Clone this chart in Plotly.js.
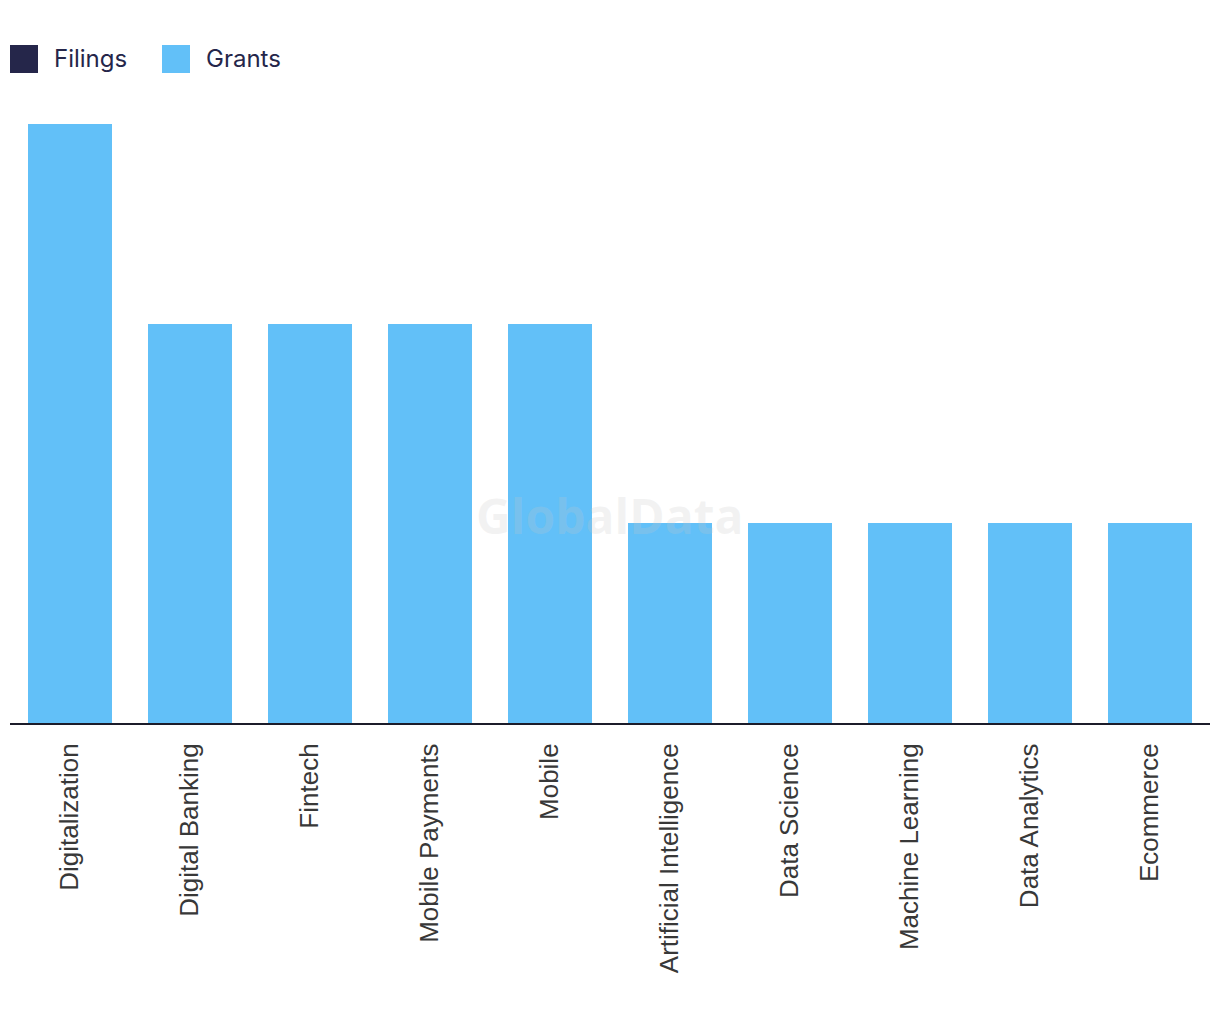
<!DOCTYPE html>
<html>
<head>
<meta charset="utf-8">
<script src="https://cdn.plot.ly/plotly-3.0.1.min.js"></script>
<style>html,body{margin:0;padding:0;background:#fff;}</style>
</head>
<body>
<div id="chart" style="width:1220px;height:1030px;"></div>
<script>
const categories = ["Digitalization","Digital Banking","Fintech","Mobile Payments","Mobile","Artificial Intelligence","Data Science","Machine Learning","Data Analytics","Ecommerce"];
const filings = [0,0,0,0,0,0,0,0,0,0];
const grants = [3,2,2,2,2,1,1,1,1,1];
const seriesNames = ["Filings","Grants"];
const seriesColors = ["#25264a","#62c0f8"];

const traces = [
  {type:"bar", name:seriesNames[0], x:categories, y:filings, marker:{color:seriesColors[0]}, hoverinfo:"x+y+name"},
  {type:"bar", name:seriesNames[1], x:categories, y:grants, marker:{color:seriesColors[1]}, hoverinfo:"x+y+name"}
];

const legendShapes = [];
const legendAnn = [];
const legX = [10, 162];
seriesNames.forEach((n,i)=>{
  legendShapes.push({type:"rect", xref:"paper", yref:"paper", xsizemode:"pixel", ysizemode:"pixel",
    xanchor:(legX[i]-10)/1200, yanchor:1+ (124-59)/599,
    x0:0, x1:28, y0:-14, y1:14, fillcolor:seriesColors[i], line:{width:0}});
  legendAnn.push({xref:"paper", yref:"paper", x:(legX[i]+42-10)/1200, y:1+(124-58)/599,
    xanchor:"left", yanchor:"middle", text:n, showarrow:false,
    font:{family:"Inter, 'Noto Sans', sans-serif", size:24, color:"#25264a"}});
});

const layout = {
  width:1220, height:1030,
  margin:{l:10, r:10, t:124, b:307, pad:0},
  paper_bgcolor:"#ffffff", plot_bgcolor:"#ffffff",
  barmode:"stack", bargap:0.3,
  showlegend:false,
  xaxis:{type:"category", tickangle:-90, showgrid:false, zeroline:false,
    showline:true, linecolor:"#1c1c2a", linewidth:2, ticks:"", ticklen:0,
    ticklabelstandoff:8,
    tickfont:{family:"'Liberation Sans', Arial, sans-serif", size:26, color:"#383838"}},
  yaxis:{range:[0,3], showgrid:false, zeroline:false, showticklabels:false, showline:false, ticks:""},
  shapes: legendShapes,
  annotations: legendAnn.concat([
    {xref:"paper", yref:"paper", x:0.5, y:(723-515)/599, xanchor:"center", yanchor:"middle",
     text:"<b>GlobalData</b>", showarrow:false,
     font:{family:"'Open Sans', sans-serif", size:48, color:"rgba(200,200,200,0.22)"}}
  ])
};

Plotly.newPlot("chart", traces, layout, {displayModeBar:false, responsive:false});
</script>
</body>
</html>
